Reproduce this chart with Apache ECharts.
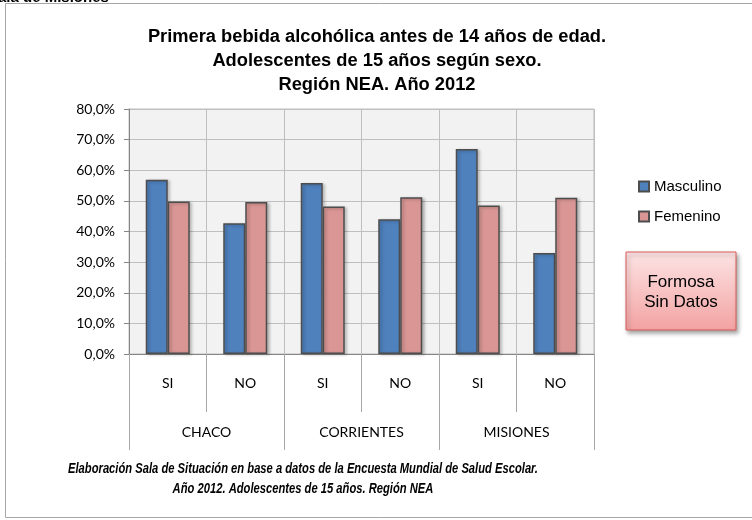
<!DOCTYPE html>
<html>
<head>
<meta charset="utf-8">
<script src="https://cdn.jsdelivr.net/npm/echarts@6/dist/echarts.min.js"></script>
<style>
  html, body { margin: 0; padding: 0; background: #fff; }
  #main { width: 752px; height: 520px; }
</style>
</head>
<body>
<div id="main"></div>
<script>
var respuestas = ['SI', 'NO', 'SI', 'NO', 'SI', 'NO']
var provincias = ['CHACO', 'CORRIENTES', 'MISIONES']
var masculino = [56.9, 42.7, 55.8, 44.0, 66.9, 33.0]
var femenino = [49.8, 49.6, 48.2, 51.2, 48.5, 51.0]
var yTicks = [0, 10, 20, 30, 40, 50, 60, 70, 80]

var dom = document.getElementById('main')
var myChart = echarts.init(dom)
var fuente = 'Liberation Sans, Arial, sans-serif'
var fuenteEje = 'Lato, Open Sans, sans-serif'

var option = {
  animation: false,
  backgroundColor: '#fff',
  title: {
    text: 'Primera bebida alcohólica antes de 14 años de edad.\nAdolescentes de 15 años según sexo.\nRegión NEA. Año 2012',
    left: 372,
    top: 20,
    textAlign: 'center',
    textStyle: {
      fontFamily: fuente,
      fontWeight: 'bold',
      fontSize: 18.3,
      lineHeight: 24,
      color: '#000'
    }
  },
  legend: {
    orient: 'vertical',
    left: 633,
    top: 173,
    itemWidth: 10,
    itemHeight: 10,
    itemGap: 13,
    icon: 'rect',
    textStyle: {
      fontFamily: fuente,
      fontSize: 15,
      lineHeight: 17,
      color: '#000'
    },
    data: ['Masculino', 'Femenino']
  },
  grid: {
    left: 129,
    top: 109,
    width: 465,
    height: 245,
    show: true,
    backgroundColor: '#f2f2f2',
    borderColor: '#bfbfbf',
    borderWidth: 1
  },
  xAxis: [
    {
      type: 'category',
      data: respuestas,
      position: 'bottom',
      axisLine: { lineStyle: { color: '#868686' } },
      axisTick: { show: true, interval: 0, length: 58, lineStyle: { color: '#a6a6a6' } },
      axisLabel: {
        interval: 0,
        margin: 22,
        fontFamily: fuenteEje,
        fontSize: 14,
        color: '#000'
      },
      splitLine: { show: true, interval: 0, lineStyle: { color: '#bfbfbf' } }
    },
    {
      type: 'category',
      data: provincias,
      position: 'bottom',
      offset: 0,
      axisLine: { show: false },
      axisTick: { show: true, interval: 0, length: 96, lineStyle: { color: '#a6a6a6' } },
      axisLabel: {
        interval: 0,
        margin: 71,
        fontFamily: fuenteEje,
        fontSize: 14,
        color: '#000'
      },
      splitLine: { show: false }
    }
  ],
  yAxis: {
    type: 'value',
    min: yTicks[0],
    max: yTicks[yTicks.length - 1],
    interval: 10,
    axisLine: { show: true, lineStyle: { color: '#868686' } },
    axisTick: { show: true, length: 5, lineStyle: { color: '#868686' } },
    axisLabel: {
      margin: 14,
      fontFamily: fuenteEje,
      fontSize: 14,
      color: '#000',
      formatter: function (v) {
        return v.toFixed(1).replace('.', ',') + '%'
      }
    },
    splitLine: { lineStyle: { color: '#bfbfbf' } }
  },
  series: [
    {
      name: 'Masculino',
      type: 'bar',
      xAxisIndex: 0,
      data: masculino,
      barWidth: 22,
      barGap: '0%',
      itemStyle: {
        color: '#4f81bd',
        borderColor: '#4d4d4d',
        borderWidth: 1.5,
        shadowBlur: 3,
        shadowOffsetX: 2,
        shadowOffsetY: 1,
        shadowColor: 'rgba(0,0,0,0.25)'
      }
    },
    {
      name: 'Femenino',
      type: 'bar',
      xAxisIndex: 0,
      data: femenino,
      barWidth: 22,
      barGap: '0%',
      itemStyle: {
        color: '#d99694',
        borderColor: '#4d4d4d',
        borderWidth: 1.5,
        shadowBlur: 3,
        shadowOffsetX: 2,
        shadowOffsetY: 1,
        shadowColor: 'rgba(0,0,0,0.25)'
      }
    }
  ],
  graphic: [
    {
      type: 'rect',
      shape: { x: 5.5, y: 3.5, width: 800, height: 514 },
      style: { fill: 'none', stroke: '#a6a6a6', lineWidth: 1 },
      silent: true
    },
    {
      type: 'text',
      x: -2,
      y: -10,
      style: {
        text: 'ala de Misiones',
        fontFamily: fuente,
        fontWeight: 'bold',
        fontSize: 15,
        fill: '#000',
        verticalAlign: 'top'
      }
    },
    {
      type: 'text',
      x: 303,
      y: 479,
      scaleX: 0.8,
      style: {
        text: 'Elaboración Sala de Situación en base a datos de la Encuesta Mundial de Salud Escolar.\nAño 2012. Adolescentes de 15 años. Región NEA',
        fontFamily: fuente,
        fontWeight: 'bold',
        fontStyle: 'italic',
        fontSize: 14,
        lineHeight: 20,
        fill: '#000',
        align: 'center',
        verticalAlign: 'middle'
      }
    },
    {
      type: 'rect',
      shape: { x: 626, y: 252, width: 110, height: 78 },
      style: {
        fill: new echarts.graphic.LinearGradient(0, 0, 0, 1, [
          { offset: 0, color: '#fde4e4' },
          { offset: 1, color: '#f3a2a2' }
        ]),
        stroke: '#d85a5a',
        lineWidth: 1,
        shadowBlur: 4,
        shadowOffsetX: 2,
        shadowOffsetY: 3,
        shadowColor: 'rgba(0,0,0,0.35)'
      }
    },
    {
      type: 'text',
      x: 681,
      y: 292,
      style: {
        text: 'Formosa\nSin Datos',
        fontFamily: fuente,
        fontSize: 17,
        lineHeight: 20,
        fill: '#000',
        align: 'center',
        verticalAlign: 'middle'
      }
    }
  ]
}
if (option && typeof option === 'object') {
  myChart.setOption(option, true)
}
</script>
</body>
</html>
